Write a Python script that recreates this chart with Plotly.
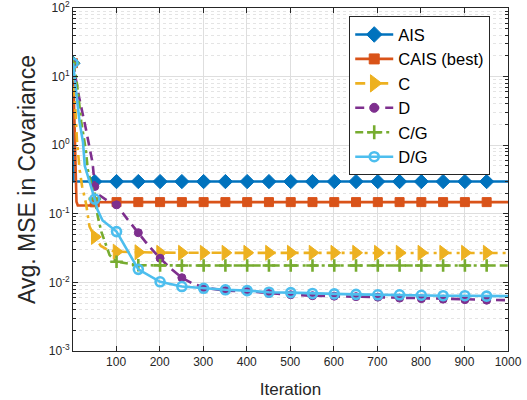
import plotly.graph_objects as go

# ---------------- data ----------------
MARKER_ITERS = [1, 51, 101, 151, 201, 251, 301, 351, 401, 451, 501, 551,
                601, 651, 701, 751, 801, 851, 901, 951]

X_AIS = [1, 2, 51, 101, 151, 201, 251, 301, 351, 401, 451, 501, 551, 601,
         651, 701, 751, 801, 851, 901, 951, 1000]
Y_AIS = [15.7, 0.295, 0.295, 0.295, 0.295, 0.295, 0.295, 0.295, 0.295, 0.295,
         0.295, 0.295, 0.295, 0.295, 0.295, 0.295, 0.295, 0.295, 0.295, 0.295,
         0.295, 0.295]

X_CAIS = [1, 4, 7, 9, 12, 25, 40, 48, 51, 101, 151, 201, 251, 301, 351, 401,
          451, 501, 551, 601, 651, 701, 751, 801, 851, 901, 951, 1000]
Y_CAIS = [15.7, 3.5, 0.5, 0.15, 0.132, 0.131, 0.132, 0.145, 0.147, 0.148,
          0.148, 0.148, 0.148, 0.148, 0.148, 0.148, 0.148, 0.148, 0.148, 0.148,
          0.148, 0.148, 0.148, 0.148, 0.148, 0.148, 0.148, 0.148]

X_C = [1, 5, 10, 16, 22, 31, 39, 51, 65, 80, 101, 151, 201, 251, 301, 351,
       401, 451, 501, 551, 601, 651, 701, 751, 801, 851, 901, 951, 1000]
Y_C = [15.7, 4.0, 1.2, 0.45, 0.25, 0.14, 0.065, 0.046, 0.034, 0.030, 0.028,
       0.0275, 0.027, 0.027, 0.027, 0.027, 0.027, 0.027, 0.027, 0.027, 0.027,
       0.027, 0.027, 0.027, 0.027, 0.027, 0.027, 0.027, 0.0268]

X_D = [1, 15, 30, 40, 46, 51, 60, 80, 101, 125, 151, 175, 201, 225, 251, 275,
       301, 351, 401, 451, 501, 551, 601, 651, 701, 751, 801, 851, 901, 951,
       1000]
Y_D = [15.7, 5.0, 1.8, 0.9, 0.55, 0.25, 0.19, 0.155, 0.135, 0.085, 0.053,
       0.034, 0.0225, 0.016, 0.0117, 0.0097, 0.0084, 0.0076, 0.0074, 0.0069,
       0.0066, 0.0064, 0.0063, 0.0062, 0.0061, 0.0059, 0.0058, 0.0057, 0.0056,
       0.0055, 0.0055]

X_CG = [1, 8, 12, 20, 31, 35, 51, 58, 66, 77, 85, 101, 151, 201, 251, 301,
        351, 401, 451, 501, 551, 601, 651, 701, 751, 801, 851, 901, 951, 1000]
Y_CG = [15.7, 10.0, 6.2, 2.2, 0.8, 0.44, 0.165, 0.091, 0.055, 0.035, 0.025,
        0.020, 0.0178, 0.0177, 0.0176, 0.0176, 0.0176, 0.0176, 0.0176, 0.0176,
        0.0176, 0.0176, 0.0176, 0.0176, 0.0176, 0.0176, 0.0176, 0.0176, 0.0176,
        0.0176]

X_DG = [1, 8, 16, 24, 28, 51, 57, 69, 101, 151, 201, 251, 301, 351, 401, 451,
        501, 551, 601, 651, 701, 751, 801, 851, 901, 951, 1000]
Y_DG = [15.7, 6.2, 2.2, 1.1, 0.5, 0.164, 0.115, 0.08, 0.055, 0.0155, 0.0102,
        0.0087, 0.0082, 0.0078, 0.0076, 0.0072, 0.0071, 0.0069, 0.0068, 0.0067,
        0.0066, 0.0066, 0.0065, 0.0064, 0.0064, 0.0063, 0.0063]

X_TICKS = [100, 200, 300, 400, 500, 600, 700, 800, 900, 1000]
Y_TICKS = [1e-3, 1e-2, 1e-1, 1e0, 1e1, 1e2]
Y_TICK_TEXT = ["10<sup>-3</sup>", "10<sup>-2</sup>", "10<sup>-1</sup>",
               "10<sup>0</sup>", "10<sup>1</sup>", "10<sup>2</sup>"]

# ---------------- styles ----------------
series = [
    dict(name="AIS", x=X_AIS, y=Y_AIS, color="#0072BD", dash="solid",
         symbol="diamond", size=11, open=False, lsize=12),
    dict(name="CAIS (best)", x=X_CAIS, y=Y_CAIS, color="#D95319", dash="solid",
         symbol="square", size=9, open=False, lsize=10),
    dict(name="C", x=X_C, y=Y_C, color="#EDB120", dash="10px,5px,3px,5px",
         symbol="triangle-right", size=13, open=False, lsize=15),
    dict(name="D", x=X_D, y=Y_D, color="#7E2F8E", dash="9px,6px",
         symbol="circle", size=8, open=False, lsize=9),
    dict(name="C/G", x=X_CG, y=Y_CG, color="#77AC30", dash="8px,4px,3px,4px",
         symbol="cross-thin-open", size=9, open=True, lsize=10),
    dict(name="D/G", x=X_DG, y=Y_DG, color="#4DBEEE", dash="solid",
         symbol="circle-open", size=9, open=True, lsize=9),
]

LW = 2.6
fig = go.Figure()
for s in series:
    fig.add_trace(go.Scatter(
        x=s["x"], y=s["y"], mode="lines", showlegend=False, hoverinfo="skip",
        line=dict(color=s["color"], width=LW, dash=s["dash"])))
    mx = [xx for xx in s["x"] if xx in MARKER_ITERS]
    my = [yy for xx, yy in zip(s["x"], s["y"]) if xx in MARKER_ITERS]
    mk = dict(symbol=s["symbol"], size=s["size"], color=s["color"])
    if s["open"]:
        mk["line"] = dict(color=s["color"], width=2.6)
    else:
        mk["line"] = dict(color=s["color"], width=1)
    fig.add_trace(go.Scatter(x=mx, y=my, mode="markers", showlegend=False,
                             marker=mk, hoverinfo="skip"))

for s in series:
    mk = dict(symbol=s["symbol"], size=s["lsize"], color=s["color"])
    mk["line"] = dict(color=s["color"], width=2.6 if s["open"] else 1)
    fig.add_trace(go.Scatter(
        x=[None], y=[None], mode="lines+markers", name=s["name"],
        line=dict(color=s["color"], width=LW, dash=s["dash"]), marker=mk))

AX = "#262626"
GRID = "#dedede"
minor_y = [m * 10.0 ** e for e in range(-3, 2) for m in range(2, 10)]

fig.update_layout(
    width=527, height=400,
    margin=dict(l=73, r=19, t=8, b=49, autoexpand=False),
    paper_bgcolor="white", plot_bgcolor="white",
    font=dict(family="Liberation Sans, Arial, sans-serif", color=AX),
    showlegend=True,
    legend=dict(
        x=0.635, y=0.976, xanchor="left", yanchor="top",
        bgcolor="white", bordercolor=AX, borderwidth=1,
        font=dict(size=16.5, color="black"),
        itemsizing="trace", itemwidth=38,
    ),
    xaxis=dict(
        range=[1, 1000], tickvals=X_TICKS, ticks="inside", ticklen=5,
        automargin=False, ticklabeloverflow="allow",
        tickcolor=AX, showline=True, linecolor=AX, linewidth=1, mirror="ticks",
        showgrid=True, gridcolor=GRID, gridwidth=1, zeroline=False,
        tickfont=dict(size=12, color=AX),
        title=dict(text="Iteration", font=dict(size=17, color=AX), standoff=14),
    ),
    yaxis=dict(
        type="log", range=[-3, 2], tickvals=Y_TICKS, ticktext=Y_TICK_TEXT,
        automargin=False, ticklabeloverflow="allow",
        ticks="inside", ticklen=5, tickcolor=AX, showline=True, linecolor=AX,
        linewidth=1, mirror="ticks", showgrid=True, gridcolor=GRID,
        gridwidth=1, zeroline=False,
        tickfont=dict(size=12, color=AX),
        minor=dict(tickvals=minor_y, ticks="inside", ticklen=3, tickcolor=AX,
                   showgrid=True, gridcolor="#e4e4e4", griddash="dot",
                   gridwidth=1),
        title=dict(text="Avg. MSE in Covariance",
                   font=dict(size=23, color=AX), standoff=6),
    ),
)

fig.write_html("out.html",
               config={"displayModeBar": False},
               post_script="document.body.style.margin='0';")
